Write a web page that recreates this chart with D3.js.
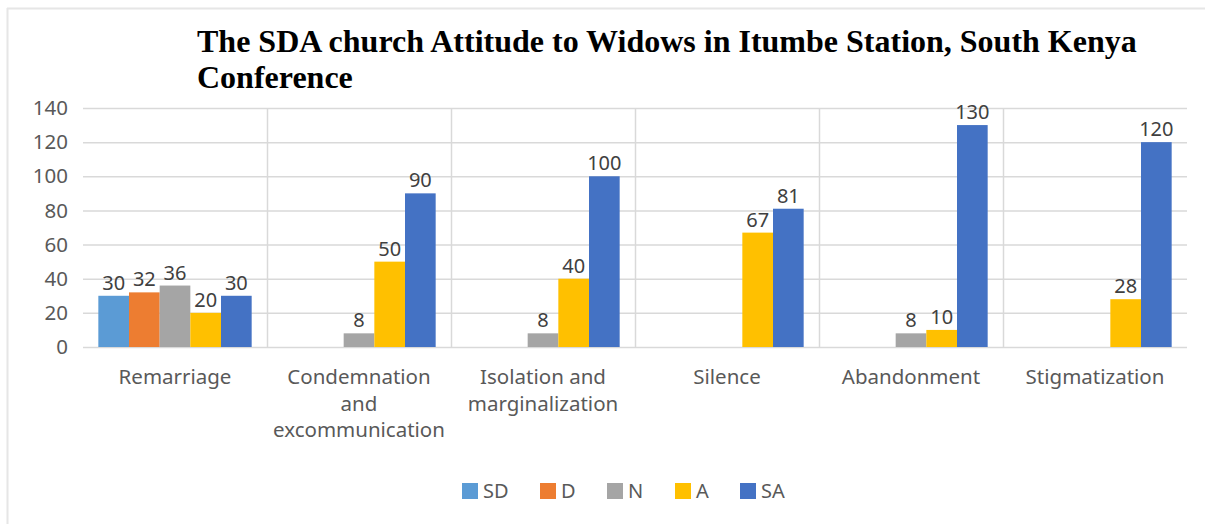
<!DOCTYPE html>
<html lang="en">
<head>
<meta charset="utf-8">
<title>SDA church attitude to widows</title>
<script src="https://cdn.jsdelivr.net/npm/d3@7"></script>
<style>
  body { margin: 0; background: #fff; }
  svg { display: block; }
</style>
</head>
<body>
<svg id="chart" width="1205" height="524"></svg>
<script>
// data
var categories = ["Remarriage", "Condemnation and excommunication", "Isolation and marginalization", "Silence", "Abandonment", "Stigmatization"];
var catLines = [["Remarriage"], ["Condemnation", "and", "excommunication"], ["Isolation and", "marginalization"], ["Silence"], ["Abandonment"], ["Stigmatization"]];
var keys = ["SD", "D", "N", "A", "SA"];
var SD = [30, null, null, null, null, null];
var D  = [32, null, null, null, null, null];
var N  = [36, 8, 8, null, 8, null];
var A  = [20, 50, 40, 67, 10, 28];
var SA = [30, 90, 100, 81, 130, 120];
var yTicks = [0, 20, 40, 60, 80, 100, 120, 140];
var titleLines = ["The SDA church Attitude to Widows in Itumbe Station, South Kenya", "Conference"];

var series = {SD: SD, D: D, N: N, A: A, SA: SA};
var colors = {SD: "#5B9BD5", D: "#ED7D31", N: "#A5A5A5", A: "#FFC000", SA: "#4472C4"};
var font = "'Noto Sans', sans-serif";

var svg = d3.select("#chart");
var margin = {left: 83, right: 18, top: 108, bottom: 177};
var W = +svg.attr("width"), H = +svg.attr("height");

// frame edges (only top and left show in the picture)
svg.append("line")
  .attr("x1", 7).attr("x2", W).attr("y1", 8.5).attr("y2", 8.5)
  .attr("stroke", "#e6e6e6").attr("stroke-width", 2);
svg.append("line")
  .attr("x1", 7.5).attr("x2", 7.5).attr("y1", 8).attr("y2", H)
  .attr("stroke", "#e6e6e6").attr("stroke-width", 2);

var x = d3.scaleBand()
  .domain(categories)
  .range([margin.left, W - margin.right])
  .padding(0);

var y = d3.scaleLinear()
  .domain([0, 140])
  .range([H - margin.bottom, margin.top]);

var xi = d3.scaleBand()
  .domain(keys)
  .range([0, x.bandwidth()])
  .paddingInner(0)
  .paddingOuter(0.5);

// gridlines
svg.append("g").selectAll("line")
  .data(yTicks).enter().append("line")
  .attr("x1", margin.left).attr("x2", W - margin.right)
  .attr("y1", d => y(d) + 0.5).attr("y2", d => y(d) + 0.5)
  .attr("stroke", "#d9d9d9").attr("stroke-width", 1.5);

// category separators
svg.append("g").selectAll("line")
  .data(categories.slice(1)).enter().append("line")
  .attr("x1", d => x(d) + 0.5).attr("x2", d => x(d) + 0.5)
  .attr("y1", y(140)).attr("y2", y(0))
  .attr("stroke", "#d9d9d9").attr("stroke-width", 1.5);

// y tick labels
svg.append("g").selectAll("text")
  .data(yTicks).enter().append("text")
  .attr("x", 68).attr("y", d => y(d))
  .attr("dy", "0.35em")
  .attr("text-anchor", "end")
  .style("font-family", font)
  .style("font-size", "20.5px")
  .style("fill", "#595959")
  .text(d => d);

// bars
var rows = [];
categories.forEach(function(c, ci) {
  keys.forEach(function(k) {
    if (series[k][ci] != null) rows.push({cat: c, key: k, value: series[k][ci]});
  });
});

svg.append("g").selectAll("rect")
  .data(rows).enter().append("rect")
  .attr("x", d => x(d.cat) + xi(d.key))
  .attr("y", d => y(d.value))
  .attr("width", xi.bandwidth())
  .attr("height", d => y(0) - y(d.value))
  .attr("fill", d => colors[d.key]);

// value labels
svg.append("g").selectAll("text")
  .data(rows).enter().append("text")
  .attr("x", d => x(d.cat) + xi(d.key) + xi.bandwidth() / 2)
  .attr("y", d => y(d.value) - 6)
  .attr("text-anchor", "middle")
  .style("font-family", font)
  .style("font-size", "20px")
  .style("fill", "#404040")
  .text(d => d.value);

// category labels
var cl = svg.append("g").selectAll("text")
  .data(categories).enter().append("text")
  .attr("text-anchor", "middle")
  .style("font-family", font)
  .style("font-size", "20.5px")
  .style("fill", "#595959");
cl.each(function(d, i) {
  var t = d3.select(this);
  catLines[i].forEach(function(line, j) {
    t.append("tspan")
      .attr("x", x(d) + x.bandwidth() / 2)
      .attr("y", 384 + j * 26.5)
      .text(line);
  });
});

// title
var title = svg.append("text")
  .style("font-family", "'Liberation Serif', 'Times New Roman', serif")
  .style("font-weight", "bold")
  .style("font-size", "32px")
  .style("fill", "#000");
titleLines.forEach(function(line, j) {
  title.append("tspan").attr("x", 197).attr("y", 52 + j * 36).text(line);
});

// legend
var legX = [462, 540, 607, 675, 740];
var leg = svg.append("g").selectAll("g")
  .data(keys).enter().append("g")
  .attr("transform", (d, i) => "translate(" + legX[i] + ",483)");
leg.append("rect")
  .attr("width", 16).attr("height", 16)
  .attr("fill", d => colors[d]);
leg.append("text")
  .attr("x", 21).attr("y", 8).attr("dy", "0.35em")
  .style("font-family", font)
  .style("font-size", "20px")
  .style("fill", "#595959")
  .text(d => d);
</script>
</body>
</html>
